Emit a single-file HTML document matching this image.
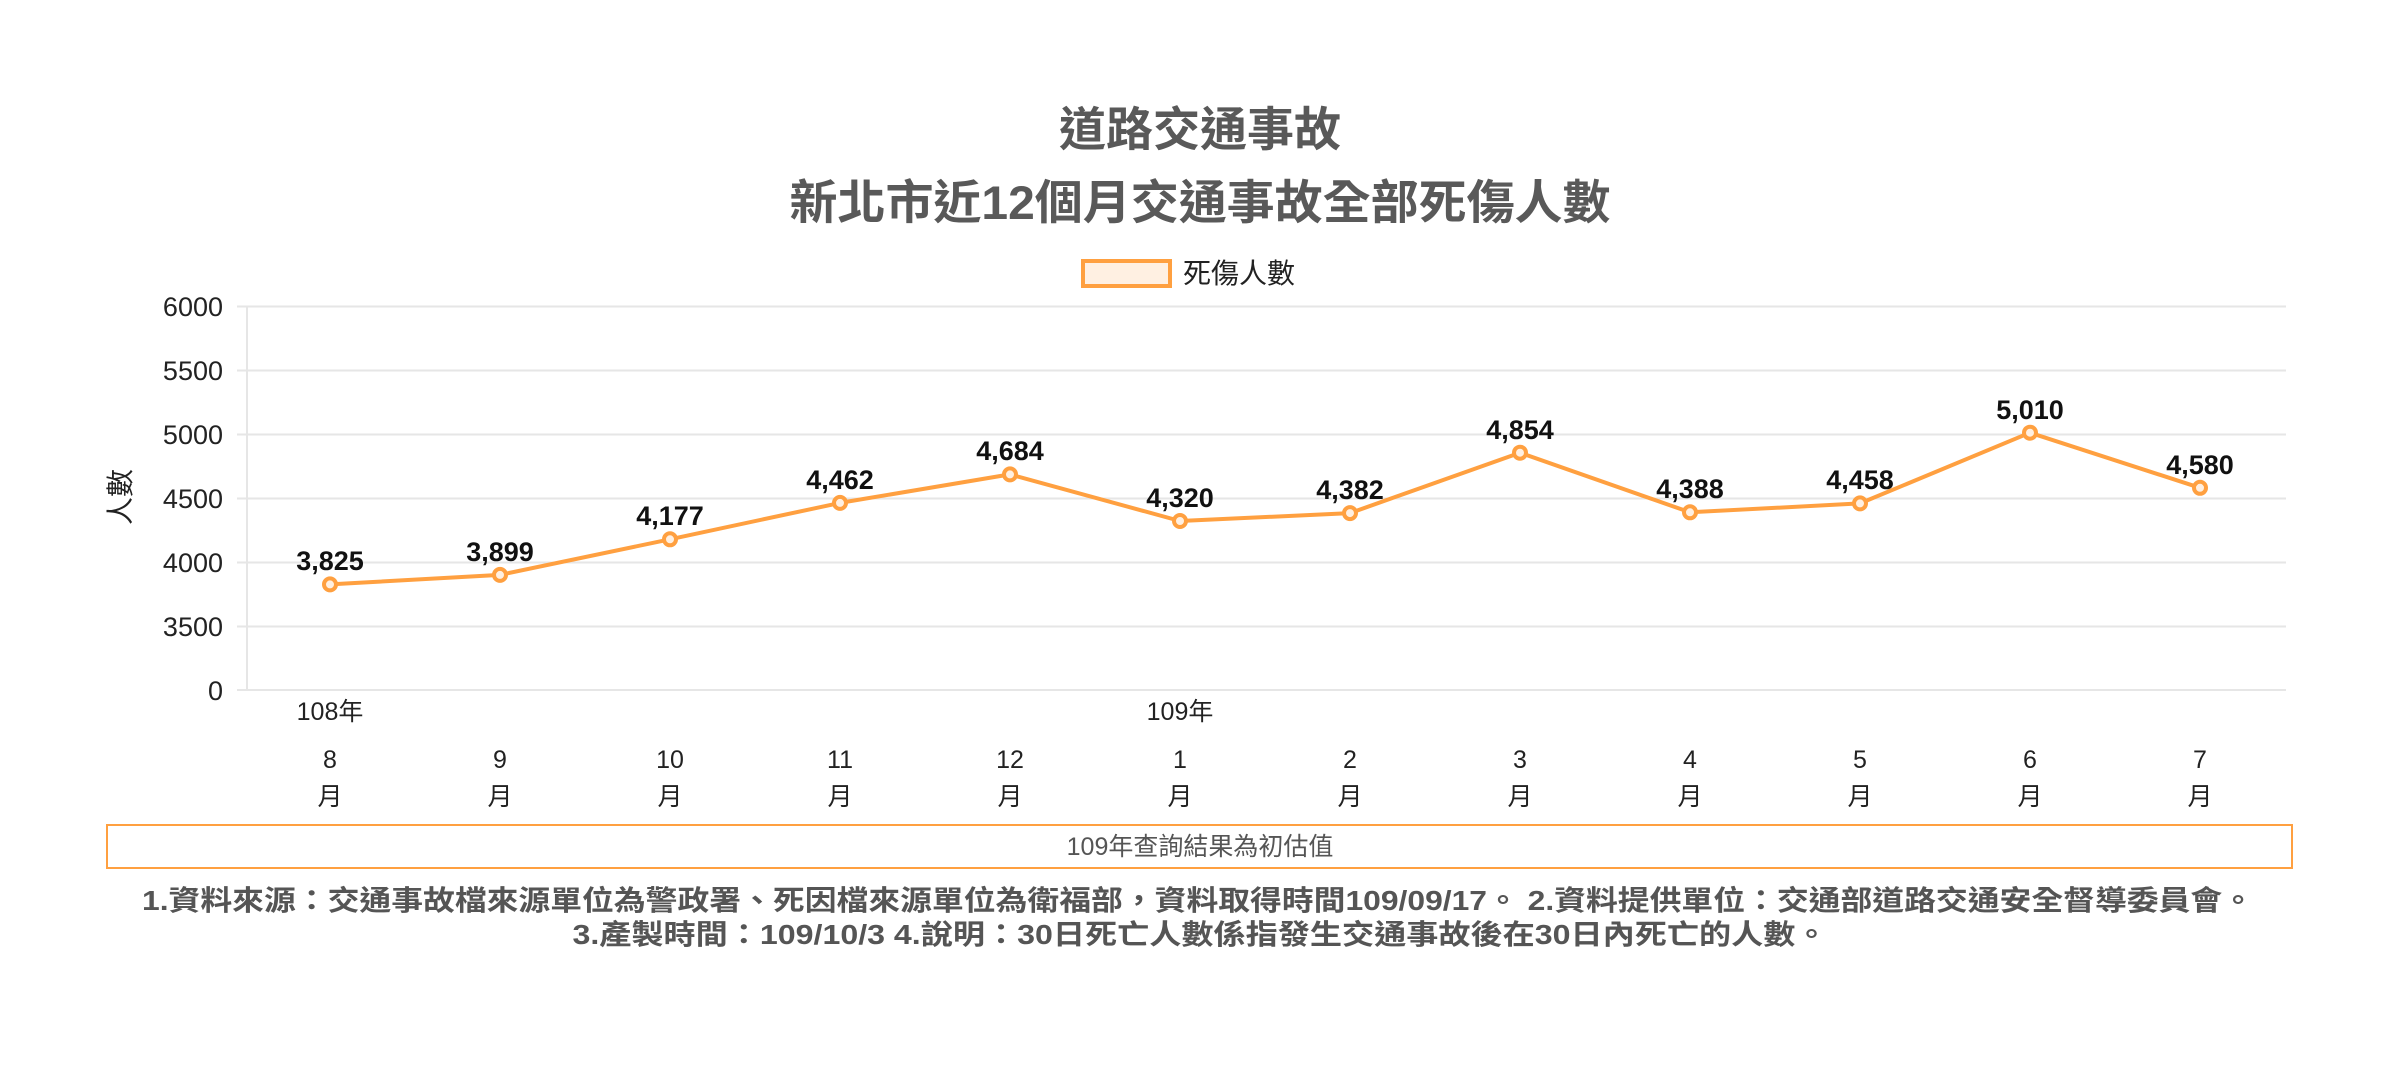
<!DOCTYPE html>
<html><head><meta charset="utf-8"><style>
html,body{margin:0;padding:0;background:#fff;}
svg{display:block;}
</style></head><body>
<svg width="2400" height="1068" xmlns="http://www.w3.org/2000/svg" font-family="'Liberation Sans','Noto Sans CJK TC',sans-serif">
<rect width="2400" height="1068" fill="#fff"/>
<text x="1200" y="146" text-anchor="middle" font-size="47" font-weight="bold" fill="#595959">道路交通事故</text>
<text x="1200" y="219" text-anchor="middle" font-size="47" font-weight="bold" fill="#595959" textLength="821" lengthAdjust="spacingAndGlyphs">新北市近12個月交通事故全部死傷人數</text>
<rect x="1083" y="261" width="87" height="25" fill="#fff0e2" stroke="#ffa040" stroke-width="4"/>
<text x="1183" y="283" font-size="28" fill="#222">死傷人數</text>
<g stroke="#e6e6e6" stroke-width="2">
<line x1="247" y1="306" x2="247" y2="691"/>
<line x1="237" y1="306.5" x2="2286" y2="306.5"/>
<line x1="237" y1="370.5" x2="2286" y2="370.5"/>
<line x1="237" y1="434.5" x2="2286" y2="434.5"/>
<line x1="237" y1="498.5" x2="2286" y2="498.5"/>
<line x1="237" y1="562.5" x2="2286" y2="562.5"/>
<line x1="237" y1="626.5" x2="2286" y2="626.5"/>
<line x1="237" y1="690" x2="2286" y2="690"/>
</g>
<g font-size="27" fill="#222" text-anchor="end">
<text x="223" y="316">6000</text>
<text x="223" y="380">5500</text>
<text x="223" y="444">5000</text>
<text x="223" y="508">4500</text>
<text x="223" y="572">4000</text>
<text x="223" y="636">3500</text>
<text x="223" y="700">0</text>
</g>
<text transform="translate(130,497) rotate(-90)" text-anchor="middle" font-size="28" fill="#222">人數</text>
<polyline fill="none" stroke="#ffa040" stroke-width="4" stroke-linejoin="round" points="330,584.4 500,574.9 670,539.3 840,502.9 1010,474.4 1180,521.0 1350,513.1 1520,452.7 1690,512.3 1860,503.4 2030,432.7 2200,487.8"/>
<g fill="#fff0e2" stroke="#ffa040" stroke-width="4">
<circle cx="330" cy="584.4" r="6"/><circle cx="500" cy="574.9" r="6"/><circle cx="670" cy="539.3" r="6"/><circle cx="840" cy="502.9" r="6"/><circle cx="1010" cy="474.4" r="6"/><circle cx="1180" cy="521.0" r="6"/><circle cx="1350" cy="513.1" r="6"/><circle cx="1520" cy="452.7" r="6"/><circle cx="1690" cy="512.3" r="6"/><circle cx="1860" cy="503.4" r="6"/><circle cx="2030" cy="432.7" r="6"/><circle cx="2200" cy="487.8" r="6"/>
</g>
<g font-size="27" font-weight="bold" fill="#111" text-anchor="middle">
<text x="330" y="570">3,825</text><text x="500" y="561">3,899</text><text x="670" y="525">4,177</text><text x="840" y="489">4,462</text><text x="1010" y="460">4,684</text><text x="1180" y="507">4,320</text><text x="1350" y="499">4,382</text><text x="1520" y="439">4,854</text><text x="1690" y="498">4,388</text><text x="1860" y="489">4,458</text><text x="2030" y="419">5,010</text><text x="2200" y="474">4,580</text>
</g>
<g font-size="25" fill="#222" text-anchor="middle">
<text x="330" y="720">108年</text><text x="1180" y="720">109年</text>
<text x="330" y="768">8</text><text x="500" y="768">9</text><text x="670" y="768">10</text><text x="840" y="768">11</text><text x="1010" y="768">12</text><text x="1180" y="768">1</text><text x="1350" y="768">2</text><text x="1520" y="768">3</text><text x="1690" y="768">4</text><text x="1860" y="768">5</text><text x="2030" y="768">6</text><text x="2200" y="768">7</text>
<text x="330" y="805">月</text><text x="500" y="805">月</text><text x="670" y="805">月</text><text x="840" y="805">月</text><text x="1010" y="805">月</text><text x="1180" y="805">月</text><text x="1350" y="805">月</text><text x="1520" y="805">月</text><text x="1690" y="805">月</text><text x="1860" y="805">月</text><text x="2030" y="805">月</text><text x="2200" y="805">月</text>
</g>
<rect x="107" y="825" width="2185" height="43" fill="none" stroke="#ffa040" stroke-width="2"/>
<text x="1200" y="855" text-anchor="middle" font-size="25" fill="#555">109年查詢結果為初估值</text>
<g font-size="28" font-weight="bold" fill="#555" text-anchor="middle">
<text x="1198" y="910" textLength="2112" lengthAdjust="spacingAndGlyphs">1.資料來源：交通事故檔來源單位為警政署、死因檔來源單位為衛福部，資料取得時間109/09/17。 2.資料提供單位：交通部道路交通安全督導委員會。</text>
<text x="1200" y="944" textLength="1255" lengthAdjust="spacingAndGlyphs">3.產製時間：109/10/3 4.說明：30日死亡人數係指發生交通事故後在30日內死亡的人數。</text>
</g>
</svg>
</body></html>
